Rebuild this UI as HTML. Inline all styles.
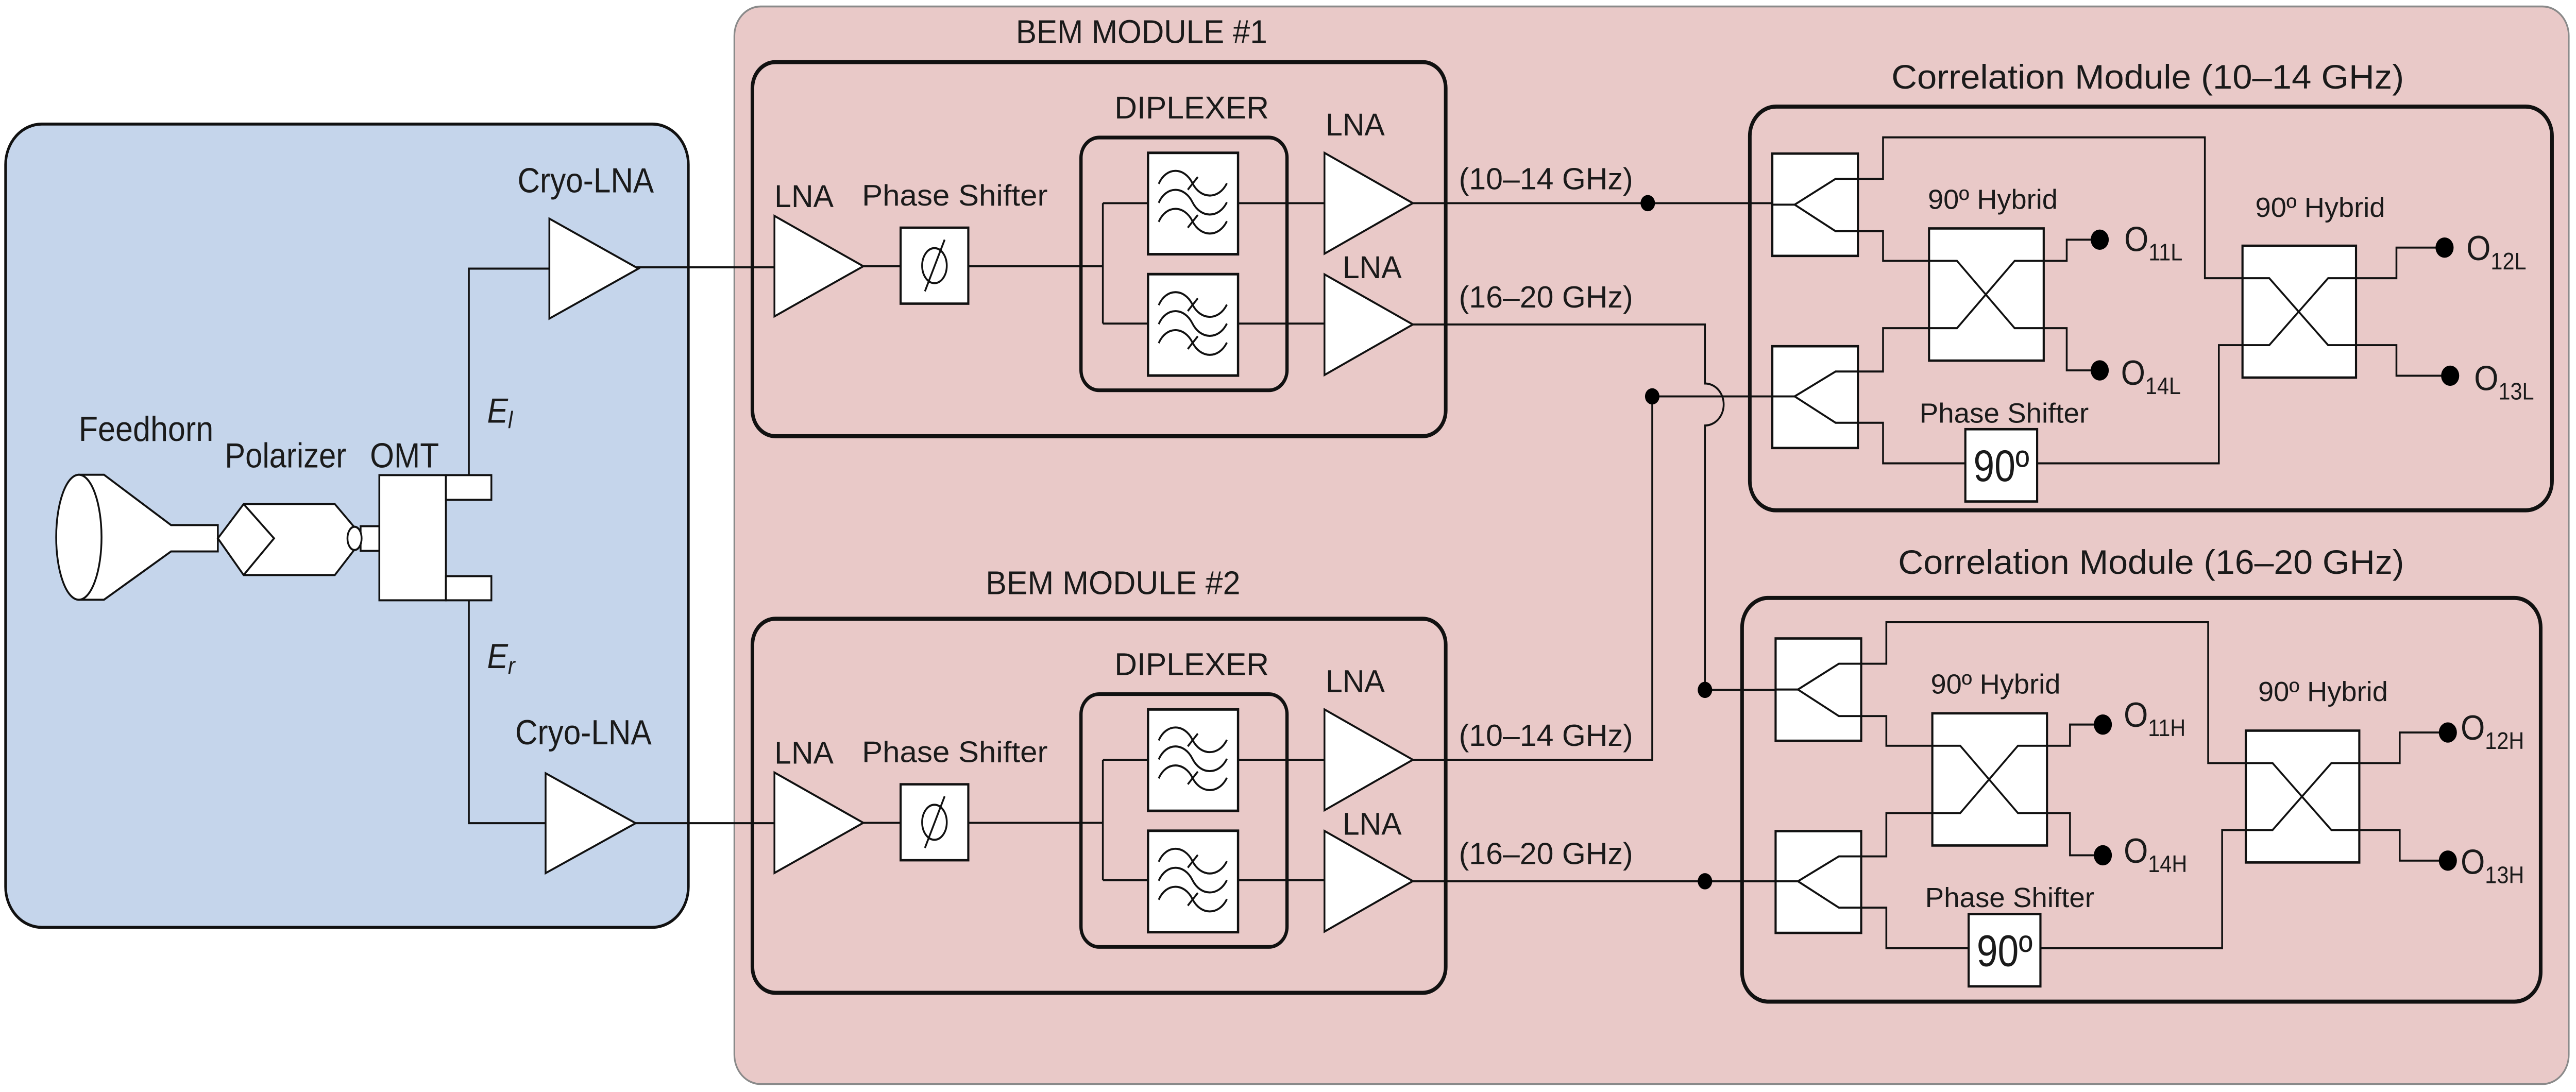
<!DOCTYPE html>
<html><head><meta charset="utf-8"><style>
html,body{margin:0;padding:0;background:#fff;overflow:hidden;width:100%;height:100%;}
#wrap{position:fixed;left:0;top:0;width:100vw;height:100vh;overflow:hidden;}
svg{display:block;width:100%;height:100%;}
text{font-family:"Liberation Sans",Arial,sans-serif;fill:#1a1a1a;}
</style></head><body>
<div id="wrap">
<svg viewBox="0 0 1568 592.3" preserveAspectRatio="none" xmlns="http://www.w3.org/2000/svg">
<defs>
<g id="filt">
<rect x="0" y="0" width="54.8" height="55" fill="#fff" stroke="#111" stroke-width="1.4"/>
<g fill="none" stroke="#111" stroke-width="1.1">
<path d="M6.5,16.8 C11,7.5 22,7.5 27,16.4 S43,25.5 48,16.5"/>
<path d="M6.5,27.1 C11,17.8 22,17.8 27,26.7 S43,35.8 48,26.8"/>
<path d="M6.5,37.4 C11,28.1 22,28.1 27,37 S43,46.1 48,37.1"/>
<path d="M24.2,20 L30.3,13.1"/>
<path d="M24.2,40.6 L30.3,33.7"/>
</g>
</g>
<g id="bem">
<rect x="458" y="33.7" width="422" height="202.9" rx="14" fill="none" stroke="#111" stroke-width="2.2"/>
<rect x="658" y="74.6" width="125.4" height="137.1" rx="11" fill="none" stroke="#111" stroke-width="2"/>
<g fill="none" stroke="#111" stroke-width="1.1">
<path d="M525.5,144.4 H548.2 M589.4,144.4 H671.3 M671.3,110.2 V175.5 M671.3,110.2 H698.8 M671.3,175.5 H698.8 M753.6,110.2 H806.2 M753.6,175.5 H806.2"/>
</g>
<polygon points="471.4,117.1 525.5,144.4 471.4,171.6" fill="#fff" stroke="#111" stroke-width="1.1"/>
<rect x="548.2" y="123.5" width="41.2" height="41.2" fill="#fff" stroke="#111" stroke-width="1.3"/>
<ellipse cx="568.8" cy="144.1" rx="7.5" ry="9.5" fill="none" stroke="#111" stroke-width="1.1"/>
<line x1="563" y1="158" x2="575" y2="130" stroke="#111" stroke-width="1.1"/>
<use href="#filt" x="698.8" y="82.9"/>
<use href="#filt" x="698.8" y="148.7"/>
<polygon points="806.2,82.9 860,110.2 806.2,137.6" fill="#fff" stroke="#111" stroke-width="1.1"/>
<polygon points="806.2,148.8 860,176 806.2,203.4" fill="#fff" stroke="#111" stroke-width="1.1"/>
<text x="471.4" y="112.3" font-size="17" textLength="36" lengthAdjust="spacingAndGlyphs">LNA</text>
<text x="524.7" y="111.5" font-size="16" textLength="113" lengthAdjust="spacingAndGlyphs">Phase Shifter</text>
<text x="678.4" y="64.2" font-size="17" textLength="94" lengthAdjust="spacingAndGlyphs">DIPLEXER</text>
<text x="806.9" y="73.5" font-size="17" textLength="36" lengthAdjust="spacingAndGlyphs">LNA</text>
<text x="817.2" y="150.8" font-size="17" textLength="36" lengthAdjust="spacingAndGlyphs">LNA</text>
<text x="888" y="102.7" font-size="16.5" textLength="106" lengthAdjust="spacingAndGlyphs">(10–14 GHz)</text>
<text x="888" y="166.8" font-size="16.5" textLength="106" lengthAdjust="spacingAndGlyphs">(16–20 GHz)</text>
</g>
<g id="corr">
<rect x="1078.8" y="83.3" width="52.1" height="55.5" fill="#fff" stroke="#111" stroke-width="1.3"/>
<rect x="1078.8" y="187.8" width="52.1" height="55.2" fill="#fff" stroke="#111" stroke-width="1.3"/>
<rect x="1174.2" y="123.9" width="69.8" height="71.7" fill="#fff" stroke="#111" stroke-width="1.3"/>
<rect x="1365" y="133.3" width="69.1" height="71.5" fill="#fff" stroke="#111" stroke-width="1.3"/>
<rect x="1196.3" y="232.8" width="43.7" height="39.2" fill="#fff" stroke="#111" stroke-width="1.3"/>
<g fill="none" stroke="#111" stroke-width="1.1">
<path d="M1078.8,111 H1092.4 L1117.3,97 H1146.2 V74.5 H1342.1 V150.9 H1381.3 L1417.1,187.2 H1458.7 V203.8 H1491"/>
<path d="M1092.4,111 L1117.3,125.4 H1146.2 V141.5 H1191.2 L1226.3,178 H1258 V200.9 H1278"/>
<path d="M1078.8,215 H1092.4 L1117.3,201.5 H1146.2 V178 H1191.2 L1226.3,141.5 H1258 V130 H1278"/>
<path d="M1092.4,215 L1117.3,229.3 H1146.2 V251.3 H1196.3 M1240,251.3 H1350.6 V187.2 H1381.3 L1417.1,150.9 H1458.7 V134.3 H1488"/>
</g>
<text x="1218.2" y="261" font-size="24" text-anchor="middle" textLength="34" lengthAdjust="spacingAndGlyphs">90º</text>
</g>
</defs>

<rect x="447" y="3.5" width="1116.6" height="584.5" rx="16" fill="#e9c9c8" stroke="#8a8a8a" stroke-width="1"/>
<rect x="3.4" y="67.3" width="415.6" height="435.7" rx="22" fill="#c5d5eb" stroke="#111" stroke-width="1.6"/>

<g fill="none" stroke="#111" stroke-width="1.1">
<path d="M285.4,257.7 V145.7 H334.4 M386,145 H471.4"/>
<path d="M285.4,325.6 V446.5 H332.1 M386,446.5 H471.4"/>
</g>
<polygon points="334.4,118.6 388.6,145.7 334.4,172.8" fill="#fff" stroke="#111" stroke-width="1.1"/>
<polygon points="332.1,419.4 386.9,446.5 332.1,473.6" fill="#fff" stroke="#111" stroke-width="1.1"/>
<path d="M48,257.5 H63.3 L104.1,284.8 H132.6 V299.1 H104.1 L63.3,325.3 H48 Z" fill="#fff" stroke="#111" stroke-width="1.1"/>
<ellipse cx="48" cy="291.4" rx="13.8" ry="33.9" fill="#fff" stroke="#111" stroke-width="1.1"/>
<path d="M132.6,292 L148.3,273.4 H203.8 L216.7,287 V297 L203.8,311.9 H148.3 Z" fill="#fff" stroke="#111" stroke-width="1.1"/>
<path d="M148.3,273.4 L166.8,292 L148.3,311.9" fill="none" stroke="#111" stroke-width="1.1"/>
<rect x="219.5" y="285.4" width="11.4" height="13.4" fill="#fff" stroke="#111" stroke-width="1.1"/>
<ellipse cx="215.8" cy="292" rx="4.3" ry="6.3" fill="#fff" stroke="#111" stroke-width="1.1"/>
<rect x="230.9" y="257.7" width="40.5" height="67.9" fill="#fff" stroke="#111" stroke-width="1.1"/>
<rect x="271.4" y="257.7" width="27.7" height="13.4" fill="#fff" stroke="#111" stroke-width="1.1"/>
<rect x="271.4" y="312.5" width="27.7" height="13.1" fill="#fff" stroke="#111" stroke-width="1.1"/>
<text x="315" y="104.4" font-size="19" textLength="83" lengthAdjust="spacingAndGlyphs">Cryo-LNA</text>
<text x="313.6" y="403.7" font-size="19" textLength="83" lengthAdjust="spacingAndGlyphs">Cryo-LNA</text>
<text x="47.9" y="239.2" font-size="19" textLength="82" lengthAdjust="spacingAndGlyphs">Feedhorn</text>
<text x="136.8" y="253.5" font-size="19" textLength="74" lengthAdjust="spacingAndGlyphs">Polarizer</text>
<text x="225.2" y="253.5" font-size="19" textLength="42" lengthAdjust="spacingAndGlyphs">OMT</text>
<text x="296.5" y="229.2" font-size="19" font-style="italic">E<tspan font-size="13" dy="3">l</tspan></text>
<text x="296.5" y="362.4" font-size="19" font-style="italic">E<tspan font-size="13" dy="3">r</tspan></text>

<use href="#bem"/>
<use href="#bem" y="301.9"/>
<text x="618.4" y="23.3" font-size="18" textLength="153" lengthAdjust="spacingAndGlyphs">BEM MODULE #1</text>
<text x="600" y="322.3" font-size="18" textLength="155" lengthAdjust="spacingAndGlyphs">BEM MODULE #2</text>

<g fill="none" stroke="#111" stroke-width="1.1">
<path d="M860,110.2 H1078.8"/>
<path d="M860,176 H1037.8 V208 A11.4,11.4 0 0 1 1037.8,230.8 V374.2 H1082"/>
<path d="M860,412.1 H1005.7 V215 H1078.8"/>
<path d="M860,478 H1082"/>
</g>
<g fill="#000">
<circle cx="1003" cy="110.2" r="4.4"/>
<circle cx="1005.7" cy="215" r="4.4"/>
<circle cx="1037.8" cy="374.2" r="4.4"/>
<circle cx="1037.8" cy="478" r="4.4"/>
</g>

<rect x="1065.1" y="57.8" width="488.3" height="219" rx="16" fill="none" stroke="#111" stroke-width="2.2"/>
<rect x="1060.4" y="324.3" width="486.1" height="219" rx="16" fill="none" stroke="#111" stroke-width="2.2"/>
<use href="#corr"/>
<use href="#corr" x="2" y="263"/>
<g fill="#000">
<circle cx="1278.1" cy="130" r="5.5"/><circle cx="1278.1" cy="200.9" r="5.5"/>
<circle cx="1488" cy="134.3" r="5.5"/><circle cx="1491.4" cy="203.8" r="5.5"/>
<circle cx="1280" cy="393" r="5.5"/><circle cx="1280" cy="463.9" r="5.5"/>
<circle cx="1490" cy="397.3" r="5.5"/><circle cx="1490" cy="466.8" r="5.5"/>
</g>
<text x="1151.3" y="48" font-size="18.5" textLength="312" lengthAdjust="spacingAndGlyphs">Correlation Module   (10–14 GHz)</text>
<text x="1155.4" y="311.3" font-size="18.5" textLength="308" lengthAdjust="spacingAndGlyphs">Correlation Module  (16–20 GHz)</text>
<g font-size="15">
<text x="1173.5" y="113.3" textLength="79" lengthAdjust="spacingAndGlyphs">90º Hybrid</text>
<text x="1372.8" y="117.6" textLength="79" lengthAdjust="spacingAndGlyphs">90º Hybrid</text>
<text x="1168.4" y="229.3" textLength="103" lengthAdjust="spacingAndGlyphs">Phase Shifter</text>
<text x="1175.2" y="376.2" textLength="79" lengthAdjust="spacingAndGlyphs">90º Hybrid</text>
<text x="1374.5" y="380.2" textLength="79" lengthAdjust="spacingAndGlyphs">90º Hybrid</text>
<text x="1171.8" y="492" textLength="103" lengthAdjust="spacingAndGlyphs">Phase Shifter</text>
</g>
<g font-size="19">
<text x="1293" y="136.2">O<tspan font-size="13" dy="5">11L</tspan></text>
<text x="1291" y="208.7">O<tspan font-size="13" dy="5">14L</tspan></text>
<text x="1501.3" y="141.1">O<tspan font-size="13" dy="5">12L</tspan></text>
<text x="1506" y="211.7">O<tspan font-size="13" dy="5">13L</tspan></text>
<text x="1292.7" y="394.2">O<tspan font-size="13" dy="5">11H</tspan></text>
<text x="1292.7" y="468">O<tspan font-size="13" dy="5">14H</tspan></text>
<text x="1497.8" y="401.2">O<tspan font-size="13" dy="5">12H</tspan></text>
<text x="1497.8" y="474">O<tspan font-size="13" dy="5">13H</tspan></text>
</g>
</svg>
</div>
</body></html>
